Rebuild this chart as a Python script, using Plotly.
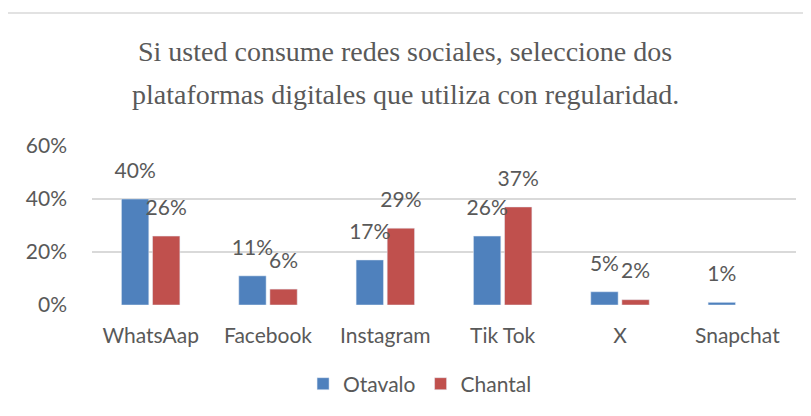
import plotly.graph_objects as go

plataformas = ["WhatsAap", "Facebook", "Instagram", "Tik Tok", "X", "Snapchat"]
otavalo = [0.40, 0.11, 0.17, 0.26, 0.05, 0.01]
chantal = [0.26, 0.06, 0.29, 0.37, 0.02, None]
titulo = ["Si usted consume redes sociales, seleccione dos",
          "plataformas digitales que utiliza con regularidad."]

gris = "#595959"
fuente = "Lato"
tam = 21

series = [("Otavalo", otavalo, "#4F81BD"), ("Chantal", chantal, "#C0504D")]

fig = go.Figure()
for nombre, valores, color in series:
    fig.add_trace(go.Bar(name=nombre, x=plataformas, y=valores, marker_color=color,
                         hoverinfo="skip"))

# etiquetas de datos: puntos invisibles agrupados igual que las barras,
# el tamano del marcador separa el texto de la barra como en Excel
for nombre, valores, color in series:
    fig.add_trace(go.Scatter(x=plataformas, y=valores, mode="markers+text", showlegend=False,
                             text=[f"{v:.0%}" if v is not None else "" for v in valores],
                             textposition="top center", cliponaxis=False,
                             marker=dict(size=24, opacity=0),
                             textfont=dict(size=tam, color=gris, family=fuente)))

# titulo en dos lineas, con interlineado amplio como en Excel
for linea, ypos in zip(titulo, [1.597, 1.321]):
    fig.add_annotation(text=linea, xref="paper", yref="paper", x=0.445, y=ypos,
                       showarrow=False, xanchor="center", yanchor="middle",
                       font=dict(family="Liberation Serif, Times New Roman, serif", size=28, color=gris))

# marco del grafico (solo se ven el borde superior e izquierdo)
fig.add_shape(type="rect", xref="paper", yref="paper", x0=-0.122, x1=1.2, y0=-1.2, y1=1.836,
              line=dict(color="#D9D9D9", width=1.5))

# la pagina tiene un margen de 8px, por eso 803x408
fig.update_layout(
    width=803, height=408,
    margin=dict(l=84, r=15, t=138, b=111),
    paper_bgcolor="white", plot_bgcolor="white",
    barmode="group", bargap=0.47, bargroupgap=0.12,
    scattermode="group", scattergap=0.47,
    legend=dict(orientation="h", x=0.466, y=-0.497, xanchor="center", yanchor="middle",
                font=dict(size=tam, color=gris, family=fuente), itemwidth=30),
    font=dict(family=fuente, color=gris),
)
fig.update_yaxes(range=[0, 0.6], dtick=0.2, tickformat=".0%", showgrid=True, gridcolor="#D9D9D9",
                 gridwidth=1.5, zeroline=False, showline=False, ticks="",
                 tickfont=dict(size=tam, color=gris), ticklabelstandoff=24)
fig.update_xaxes(showline=False, ticks="", tickfont=dict(size=tam, color=gris), ticklabelstandoff=16)

fig.write_html("out.html")
